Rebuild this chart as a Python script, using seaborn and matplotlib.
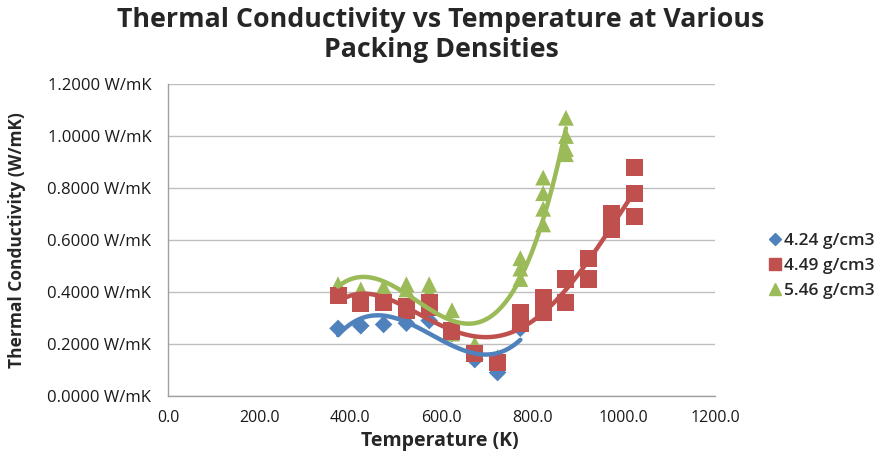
import numpy as np
import pandas as pd
import matplotlib
matplotlib.use("Agg")
import matplotlib.pyplot as plt
import seaborn as sns
from matplotlib.ticker import FuncFormatter, MultipleLocator
from matplotlib.lines import Line2D

sns.set_theme(style="white")
plt.rcParams['font.family'] = ['Open Sans', 'DejaVu Sans']

# ---- data ----
series_names = ["4.24 g/cm3", "4.49 g/cm3", "5.46 g/cm3"]

t_a = [373, 423, 473, 523, 573, 623, 673, 723, 773]
k_a = [0.26, 0.27, 0.275, 0.28, 0.29, 0.24, 0.14, 0.09, 0.26]

t_b = [373, 423, 473, 523, 523, 573, 573, 623, 673, 723, 773, 773, 823, 823,
       873, 873, 923, 923, 973, 973, 1023, 1023, 1023]
k_b = [0.385, 0.355, 0.36, 0.345, 0.33, 0.34, 0.36, 0.25, 0.165, 0.13, 0.32, 0.28,
       0.38, 0.32, 0.45, 0.36, 0.53, 0.45, 0.70, 0.64, 0.88, 0.78, 0.69]

t_c = [373, 423, 473, 523, 523, 573, 573, 623, 623, 673, 673, 723, 773, 773, 773,
       823, 823, 823, 823, 873, 873, 873, 873]
k_c = [0.43, 0.41, 0.42, 0.43, 0.41, 0.43, 0.40, 0.33, 0.24, 0.20, 0.17, 0.15,
       0.53, 0.49, 0.45, 0.84, 0.78, 0.72, 0.66, 1.07, 1.00, 0.95, 0.93]

trend_orders = [3, 4, 3]

colors = ["#4F81BD", "#C0504D", "#9BBB59"]
markers = ["D", "s", "^"]
msizes = [80, 150, 130]
zorders = [2.0, 2.2, 2.1]

df = pd.concat([
    pd.DataFrame({"T": t_a, "k": k_a, "s": series_names[0]}),
    pd.DataFrame({"T": t_b, "k": k_b, "s": series_names[1]}),
    pd.DataFrame({"T": t_c, "k": k_c, "s": series_names[2]}),
], ignore_index=True)

fig = plt.figure(figsize=(8.82, 4.63), dpi=100)
ax = fig.add_axes([168/882, 1-396/463, (715-168)/882, (396-84)/463])

for name, c, m, ms, z in zip(series_names, colors, markers, msizes, zorders):
    sub = df[df["s"] == name]
    sns.scatterplot(data=sub, x="T", y="k", color=c, marker=m, s=ms,
                    edgecolor="none", ax=ax, zorder=z, legend=False)
for name, c, o in zip(series_names, colors, trend_orders):
    sub = df[df["s"] == name]
    sns.regplot(data=sub, x="T", y="k", order=o, ci=None, scatter=False,
                truncate=True, color=c, line_kws={"lw": 3.2, "zorder": 3}, ax=ax)

ax.set_xlim(0, 1200)
ax.set_ylim(0, 1.2)
ax.xaxis.set_major_locator(MultipleLocator(200))
ax.yaxis.set_major_locator(MultipleLocator(0.2))
ax.xaxis.set_major_formatter(FuncFormatter(lambda v, p: f"{v:.1f}"))
ax.yaxis.set_major_formatter(FuncFormatter(lambda v, p: f"{v:.4f} W/mK"))
ax.grid(axis="y", color="#BFBFBF", lw=1)
ax.set_axisbelow(True)
for sp in ["top", "right"]:
    ax.spines[sp].set_visible(False)
for sp in ["left", "bottom"]:
    ax.spines[sp].set_color("#A0A0A0")
    ax.spines[sp].set_linewidth(1)
ax.tick_params(axis="both", which="major", length=4, color="#A0A0A0",
               labelsize=12, labelcolor="#1a1a1a", direction="out")
ax.tick_params(axis="x", labelsize=11.5, pad=6)
ax.tick_params(axis="y", pad=8)
ax.set_xlabel("Temperature (K)", fontsize=14, fontweight="bold")
ax.set_ylabel("Thermal Conductivity (W/mK)", fontsize=12.5, fontweight="bold")
ax.xaxis.set_label_coords((440-168)/547, (396-431)/312)
ax.yaxis.set_label_coords((26-168)/547, 0.5)

fig.suptitle("Thermal Conductivity vs Temperature at Various\nPacking Densities",
             x=0.5, y=0.985, fontsize=19.3, fontweight="bold", linespacing=1.2)

hs = [Line2D([], [], ls="none", marker=m, color=c, markersize=ms)
      for c, m, ms in zip(colors, ["D", "s", "^"], [6.5, 9, 8.5])]
fig.legend(hs, series_names, loc="center left", bbox_to_anchor=(760/882, 1-266/463),
           frameon=False, prop={"size": 12.5, "weight": "semibold"},
           handlelength=0.7, handletextpad=0.2, labelspacing=0.5, borderpad=0)

fig.savefig("out.png", dpi=100)
